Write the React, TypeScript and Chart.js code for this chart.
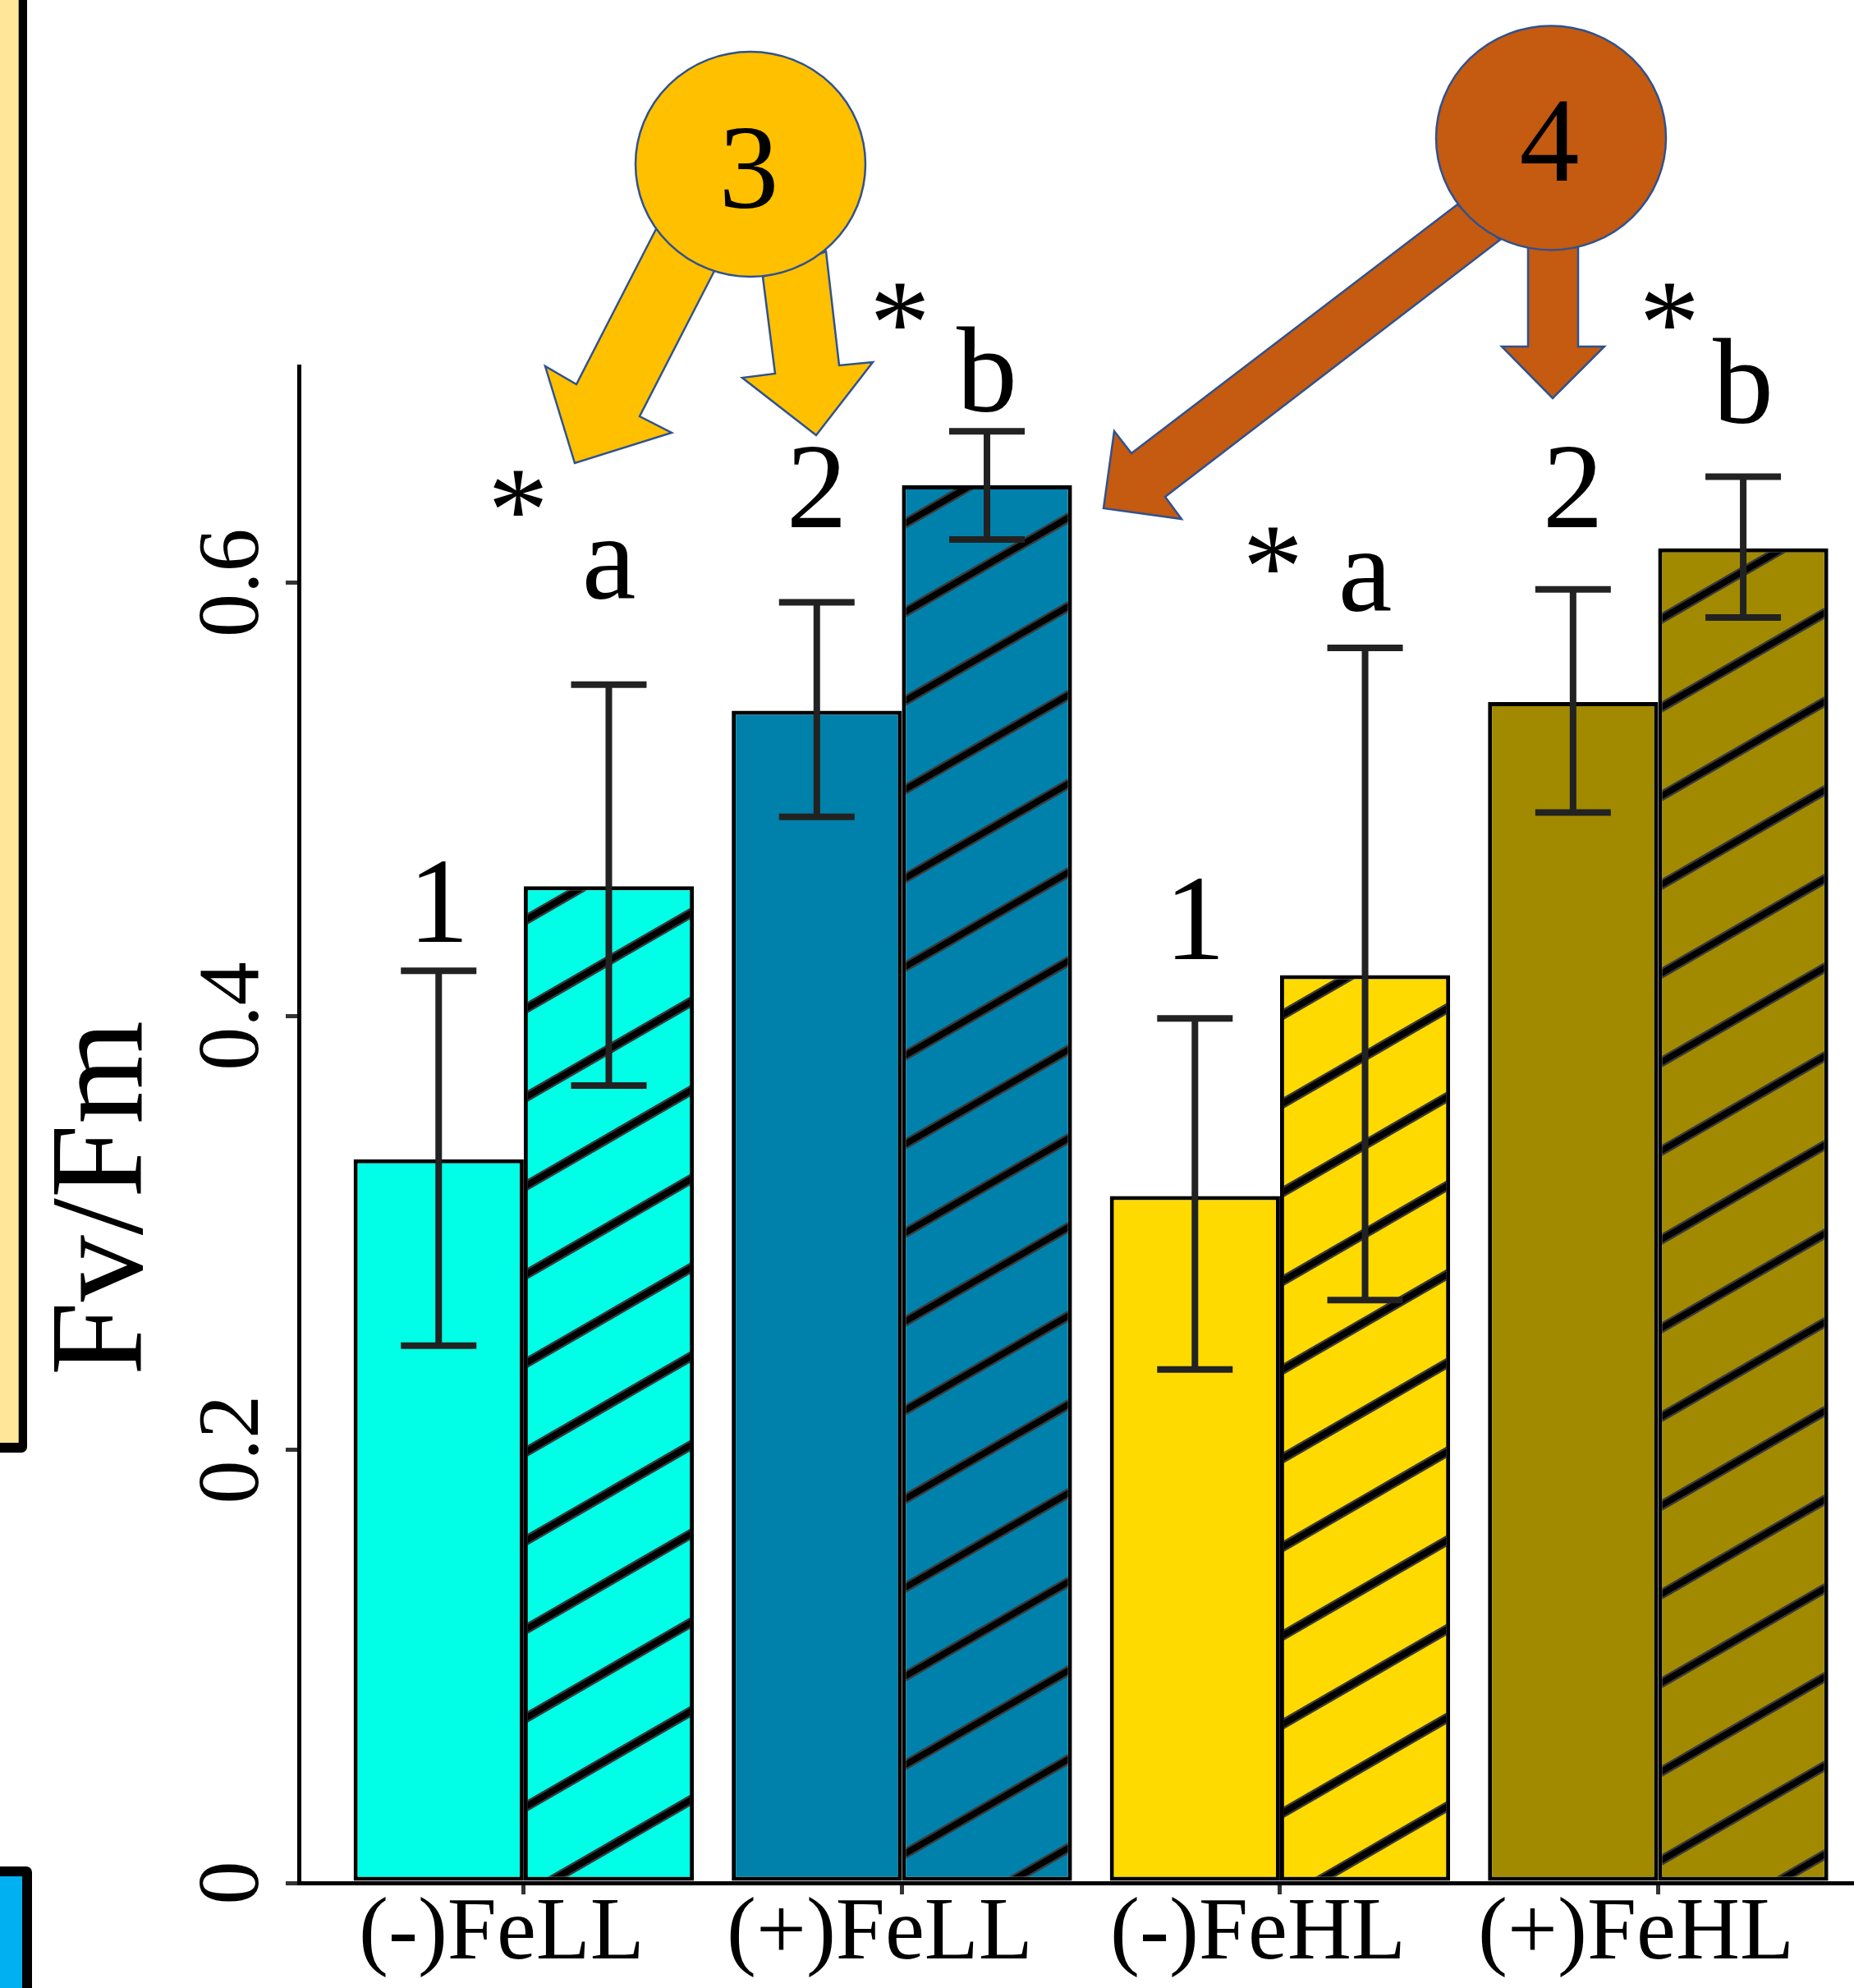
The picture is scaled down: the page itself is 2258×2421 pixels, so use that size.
import { useEffect, useRef } from 'react';
import { Chart, registerables } from 'chart.js';

Chart.register(...registerables);

// ---------- data ----------
const categories = ['(-)FeLL', '(+)FeLL', '(-)FeHL', '(+)FeHL'];
const categoryPositions = [1, 2, 3, 4];
const categoryColors = ['#00FFE6', '#0081AB', '#FFDA00', '#A18A00'];

const solidValues = [0.334, 0.541, 0.317, 0.545];
const solidUpper = [0.421, 0.591, 0.399, 0.597];
const solidLower = [0.248, 0.492, 0.237, 0.494];

const hatchedValues = [0.46, 0.645, 0.419, 0.616];
const hatchedUpper = [0.553, 0.67, 0.57, 0.649];
const hatchedLower = [0.368, 0.62, 0.269, 0.584];

const solidLabels = ['1', '2', '1', '2'];
const solidLabelY = [0.4345, 0.6256, 0.4265, 0.6256];
const hatchedLetters = ['a', 'b', 'a', 'b'];
const hatchedLetterY = [0.5926, 0.679, 0.5869, 0.6737];
const starLabels = ['*', '*', '*', '*'];
const starX = [0.985, 1.995, 2.981, 4.03];
const starY = [0.6146, 0.701, 0.5884, 0.7012];

const yTicks = [0, 0.2, 0.4, 0.6];
const yTitle = 'Fv/Fm';

const badgeTexts = ['3', '4'];
const badgeColors = ['#FFC000', '#C55A11'];

const SERIF = '"Liberation Serif", "Times New Roman", serif';

// ---------- decoration geometry (overlay shapes, pixels) ----------
const badgeEllipses = [
  { cx: 914, cy: 200, rx: 140, ry: 137, tx: 912, ty: 253 },
  { cx: 1889, cy: 168, rx: 140, ry: 136.5, tx: 1887, ty: 220 },
];
const arrowShapes: { badge: number; pts: number[][] }[] = [
  { badge: 0, pts: [[799, 279], [702, 468], [664, 446], [700, 564], [818, 527], [779, 507], [870, 330]] },
  { badge: 0, pts: [[929, 337], [944, 455], [904, 460], [994, 530], [1063, 441], [1022, 445], [1006, 306]] },
  { badge: 1, pts: [[1775, 249], [1378, 552], [1357, 525], [1344, 619], [1439, 632], [1419, 605], [1827, 292]] },
  { badge: 1, pts: [[1861, 301], [1861, 422], [1829, 422], [1891, 485], [1954, 422], [1922, 422], [1922, 301]] },
];

function makeHatch(color: string): CanvasPattern | string {
  const W = 187;
  const H = 108;
  const c = document.createElement('canvas');
  c.width = W;
  c.height = H;
  const g = c.getContext('2d');
  if (!g) return color;
  g.fillStyle = color;
  g.fillRect(0, 0, W, H);
  const lines = [
    [-W, 2 * H, 2 * W, -H],
    [-W, 3 * H, 2 * W, 0],
    [-W, H, 2 * W, -2 * H],
  ];
  const strokes: [number, string][] = [
    [12, '#3a3a3a'],
    [7.5, '#000000'],
  ];
  for (const [w, col] of strokes) {
    g.lineWidth = w;
    g.strokeStyle = col;
    for (const l of lines) {
      g.beginPath();
      g.moveTo(l[0], l[1]);
      g.lineTo(l[2], l[3]);
      g.stroke();
    }
  }
  const p = g.createPattern(c, 'repeat');
  if (!p) return color;
  try {
    p.setTransform(new DOMMatrix().translate(0, 86));
  } catch (e) {
    /* ignore */
  }
  return p;
}

const errorBarPlugin = {
  id: 'errorBars',
  afterDatasetsDraw(chart: any) {
    const ctx = chart.ctx;
    const y = chart.scales.y;
    const sets = [
      [solidUpper, solidLower],
      [hatchedUpper, hatchedLower],
    ];
    ctx.save();
    ctx.strokeStyle = '#222222';
    ctx.lineWidth = 8;
    sets.forEach(([up, lo], di) => {
      chart.getDatasetMeta(di).data.forEach((el: any, j: number) => {
        const x = el.x;
        const yt = y.getPixelForValue(up[j]);
        const yb = y.getPixelForValue(lo[j]);
        ctx.beginPath();
        ctx.moveTo(x, yt);
        ctx.lineTo(x, yb);
        ctx.moveTo(x - 46, yt);
        ctx.lineTo(x + 46, yt);
        ctx.moveTo(x - 46, yb);
        ctx.lineTo(x + 46, yb);
        ctx.stroke();
      });
    });
    ctx.restore();
  },
};

const labelPlugin = {
  id: 'sigLabels',
  afterDatasetsDraw(chart: any) {
    const ctx = chart.ctx;
    const xs = chart.scales.x;
    const ys = chart.scales.y;
    const solidMeta = chart.getDatasetMeta(0).data;
    const hatchMeta = chart.getDatasetMeta(1).data;
    ctx.save();
    ctx.fillStyle = '#000';
    ctx.textAlign = 'center';
    ctx.textBaseline = 'alphabetic';
    ctx.font = `148px ${SERIF}`;
    for (let i = 0; i < categories.length; i++) {
      ctx.fillText(solidLabels[i], solidMeta[i].x, ys.getPixelForValue(solidLabelY[i]));
      ctx.fillText(hatchedLetters[i], hatchMeta[i].x, ys.getPixelForValue(hatchedLetterY[i]));
      ctx.fillText(starLabels[i], xs.getPixelForValue(starX[i]), ys.getPixelForValue(starY[i]));
    }
    // y-axis title
    ctx.save();
    ctx.translate(chart.chartArea.left - 192, ys.getPixelForValue(0.316));
    ctx.rotate(-Math.PI / 2);
    ctx.font = `162px ${SERIF}`;
    ctx.fillText(yTitle, 0, 0);
    ctx.restore();
    ctx.restore();
  },
};

const decorPlugin = {
  id: 'decor',
  afterDraw(chart: any) {
    const ctx = chart.ctx;
    ctx.save();
    // neighbouring panel edges on the left
    ctx.fillStyle = '#000';
    ctx.beginPath();
    ctx.roundRect(-20, -20, 53, 1789, 7);
    ctx.fill();
    ctx.fillStyle = '#FFE699';
    ctx.fillRect(-20, -20, 42.7, 1777);
    ctx.fillStyle = '#000';
    ctx.beginPath();
    ctx.roundRect(-20, 2273, 59, 200, 7);
    ctx.fill();
    ctx.fillStyle = '#00B0F0';
    ctx.fillRect(-20, 2285, 47, 200);

    // arrows
    ctx.lineWidth = 2.5;
    ctx.strokeStyle = '#2F528F';
    ctx.lineJoin = 'miter';
    for (const a of arrowShapes) {
      ctx.fillStyle = badgeColors[a.badge];
      ctx.beginPath();
      a.pts.forEach((p, k) => (k === 0 ? ctx.moveTo(p[0], p[1]) : ctx.lineTo(p[0], p[1])));
      ctx.closePath();
      ctx.fill();
      ctx.stroke();
    }
    // badges
    badgeEllipses.forEach((b, i) => {
      ctx.fillStyle = badgeColors[i];
      ctx.beginPath();
      ctx.ellipse(b.cx, b.cy, b.rx, b.ry, 0, 0, Math.PI * 2);
      ctx.fill();
      ctx.stroke();
      ctx.fillStyle = '#000';
      ctx.font = `146px ${SERIF}`;
      ctx.textAlign = 'center';
      ctx.textBaseline = 'alphabetic';
      ctx.fillText(badgeTexts[i], b.tx, b.ty);
    });
    ctx.restore();
  },
};

export default function App() {
  const ref = useRef<HTMLCanvasElement>(null);

  useEffect(() => {
    const canvas = ref.current;
    if (!canvas) return;
    const hatchPatterns = categoryColors.map((c) => makeHatch(c));
    const chart = new Chart(canvas, {
      type: 'bar',
      data: {
        datasets: [
          {
            label: 'solid',
            data: categoryPositions.map((x, i) => ({ x, y: solidValues[i] })),
            backgroundColor: categoryColors,
            borderColor: '#000',
            borderWidth: 5,
            borderSkipped: false,
          },
          {
            label: 'hatched',
            data: categoryPositions.map((x, i) => ({ x, y: hatchedValues[i] })),
            backgroundColor: hatchPatterns as any,
            borderColor: '#000',
            borderWidth: 5,
            borderSkipped: false,
          },
        ],
      },
      options: {
        responsive: false,
        animation: false,
        devicePixelRatio: 1,
        layout: { padding: { top: 446, left: 0, right: 0, bottom: 0 } },
        datasets: { bar: { categoryPercentage: 0.9, barPercentage: 1 } },
        plugins: {
          legend: { display: false },
          tooltip: { enabled: false },
          title: { display: false },
        },
        scales: {
          x: {
            type: 'linear',
            min: 0.4053,
            max: 4.518,
            offset: false,
            afterBuildTicks: (s: any) => {
              s.ticks = categoryPositions.map((v) => ({ value: v }));
            },
            afterFit: (s: any) => {
              s.height = 128;
            },
            grid: { offset: false, drawOnChartArea: false, drawTicks: true, tickLength: 14, color: '#333', lineWidth: 5 },
            border: { display: true, color: '#000', width: 5 },
            ticks: {
              callback: (v: any) => {
                const k = categoryPositions.indexOf(Number(v));
                return k >= 0 ? categories[k] + '\u2002' : '';
              },
              color: '#000',
              font: { family: SERIF, size: 108, lineHeight: 1 },
              padding: -4.5,
              minRotation: 0,
              maxRotation: 0,
              autoSkip: false,
            },
          },
          y: {
            type: 'linear',
            min: 0,
            max: 0.7,
            afterBuildTicks: (s: any) => {
              s.ticks = yTicks.map((v) => ({ value: v }));
            },
            afterFit: (s: any) => {
              s.width = 364;
            },
            grid: { drawOnChartArea: false, drawTicks: true, tickLength: 16, color: '#333', lineWidth: 5 },
            border: { display: true, color: '#000', width: 5 },
            ticks: {
              callback: (v: any) => (Number(v) === 0 ? '0' : Number(v).toFixed(1)),
              color: '#000',
              font: { family: SERIF, size: 106, lineHeight: 1 },
              minRotation: 90,
              maxRotation: 90,
              crossAlign: 'center',
              padding: -4,
            },
          },
        },
      } as any,
      plugins: [errorBarPlugin, labelPlugin, decorPlugin],
    });
    return () => chart.destroy();
  }, []);

  return (
    <div style={{ position: 'absolute', left: 0, top: 0, width: 2258, height: 2421, background: '#fff', overflow: 'hidden' }}>
      <canvas ref={ref} width={2258} height={2421} style={{ display: 'block' }} />
    </div>
  );
}
